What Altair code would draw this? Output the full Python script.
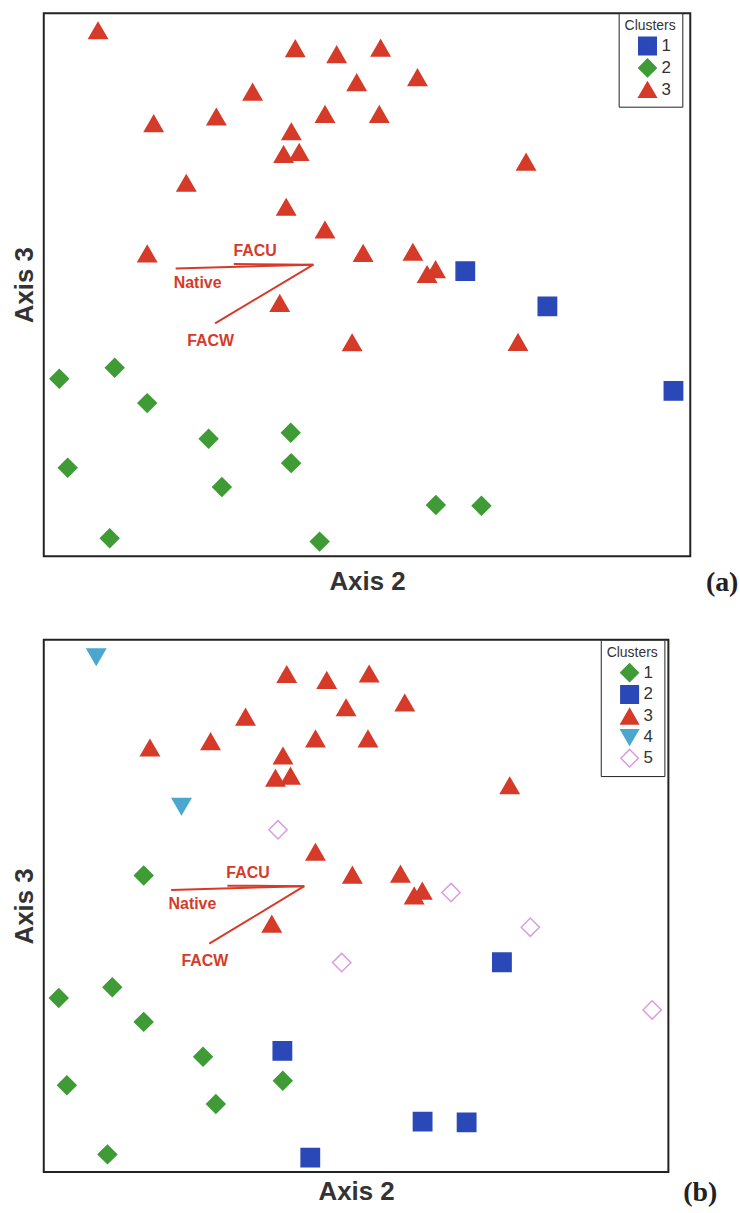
import altair as alt
import pandas as pd

# ---- point coordinates (arbitrary ordination units, frame = 0..100) ----
x_vals = [8.4, 38.9, 45.3, 52.1, 48.4, 57.8, 32.3, 17.0, 26.7, 43.5,
          51.9, 38.3, 37.1, 39.5, 74.6, 22.05, 37.5, 43.5, 16.0, 49.4,
          57.1, 60.6, 59.3, 36.5, 47.7, 73.35,
          65.2, 77.9, 97.4,
          2.4, 10.97, 16.0, 25.5, 38.2, 3.7, 38.27, 27.55, 60.65, 67.7, 10.2, 42.67]
y_vals = [96.8, 93.5, 92.4, 93.6, 87.25, 88.15, 85.5, 79.7, 80.9, 81.4,
          81.4, 78.2, 74.0, 74.4, 72.6, 68.7, 64.3, 60.1, 55.7, 55.8,
          56.0, 52.8, 51.9, 46.6, 39.35, 39.4,
          52.5, 46.0, 30.45,
          32.7, 34.7, 28.2, 21.65, 22.75, 16.3, 17.15, 12.75, 9.45, 9.3, 3.3, 2.7]
cluster_a = ["3", "3", "3", "3", "3", "3", "3", "3", "3", "3",
             "3", "3", "3", "3", "3", "3", "3", "3", "3", "3",
             "3", "3", "3", "3", "3", "3",
             "1", "1", "1",
             "2", "2", "2", "2", "2", "2", "2", "2", "2", "2", "2", "2"]
cluster_b = ["4", "3", "3", "3", "3", "3", "3", "3", "3", "3",
             "3", "3", "3", "3", "3", "4", "5", "3", "1", "3",
             "3", "3", "3", "3", "5", "2",
             "5", "5", "5",
             "1", "1", "1", "1", "2", "1", "1", "1", "2", "2", "1", "2"]

# ---- biplot vectors ----
vec_names = ["FACU", "Native", "FACW"]
vec_x0 = [41.7, 41.7, 41.7]
vec_y0 = [53.7, 53.7, 53.7]
vec_x1 = [29.4, 20.4, 26.5]
vec_y1 = [53.8, 53.0, 42.9]
lab_x = [32.7, 23.8, 25.8]
lab_y = [56.2, 50.4, 39.6]

# ---- legends ----
domain_a = ["1", "2", "3"]
shapes_a = ["square", "diamond", "triangle-up"]
fills_a = ["#2a48b8", "#3f9b35", "#d63a28"]
strokes_a = ["#2a48b8", "#3f9b35", "#d63a28"]

domain_b = ["1", "2", "3", "4", "5"]
shapes_b = ["diamond", "square", "triangle-up", "triangle-down", "diamond"]
fills_b = ["#3f9b35", "#2a48b8", "#d63a28", "#4ba7cf", "#ffffff"]
strokes_b = ["#3f9b35", "#2a48b8", "#d63a28", "#4ba7cf", "#dc9be3"]

tags = ["(a)", "(b)"]

RED = "#d63a28"
SANS = "Liberation Sans"


def panel(clusters, domain, shapes, fills, strokes, w, h, tag, leg_x, tpad, tag_dy):
    df = pd.DataFrame({"x": x_vals, "y": y_vals, "Clusters": clusters})
    vec = pd.DataFrame({"x": vec_x0, "y": vec_y0, "x2": vec_x1, "y2": vec_y1, "name": vec_names})
    labs = pd.DataFrame({"x": lab_x, "y": lab_y, "name": vec_names})
    tagdf = pd.DataFrame({"t": [tag]})

    xs = alt.Scale(domain=[0, 100], nice=False, zero=False)
    ys = alt.Scale(domain=[0, 100], nice=False, zero=False)
    xaxis = alt.Axis(title="Axis 2", labels=False, ticks=False, domain=False, grid=False,
                     titleFont=SANS, titleFontSize=26, titleFontWeight="bold",
                     titleColor="#333333", titlePadding=tpad)
    yaxis = alt.Axis(title="Axis 3", labels=False, ticks=False, domain=False, grid=False,
                     titleFont=SANS, titleFontSize=26, titleFontWeight="bold",
                     titleColor="#333333", titlePadding=6)
    X = alt.X("x:Q", scale=xs, axis=xaxis)
    Y = alt.Y("y:Q", scale=ys, axis=yaxis)

    leg = alt.Legend(orient="none", legendX=leg_x, legendY=0, title="Clusters",
                     titleFont=SANS, titleFontSize=14, titleFontWeight="normal",
                     titleColor="#333333", titlePadding=3,
                     labelFont=SANS, labelFontSize=17, labelColor="#333333",
                     labelOffset=4, strokeColor="#222222", fillColor="white",
                     padding=6, symbolSize=310, symbolOffset=13, rowPadding=-8,
                     symbolStrokeWidth=1.5)

    pts = alt.Chart(df).mark_point(opacity=1, strokeWidth=1.5, size=340).encode(
        x=X, y=Y,
        shape=alt.Shape("Clusters:N", scale=alt.Scale(domain=domain, range=shapes), legend=leg),
        fill=alt.Fill("Clusters:N", scale=alt.Scale(domain=domain, range=fills), legend=leg),
        stroke=alt.Stroke("Clusters:N", scale=alt.Scale(domain=domain, range=strokes), legend=leg),
    )
    rules = alt.Chart(vec).mark_rule(color=RED, strokeWidth=2).encode(
        x=X, y=Y, x2="x2:Q", y2="y2:Q")
    texts = alt.Chart(labs).mark_text(color=RED, font=SANS, fontSize=16,
                                      fontWeight="bold").encode(x=X, y=Y, text="name:N")
    tagt = alt.Chart(tagdf).mark_text(font="Liberation Serif", fontSize=28, fontWeight="bold",
                                      color="#222222", baseline="middle").encode(
        text="t:N", x=alt.value(w + 32), y=alt.value(h + tag_dy))
    return alt.layer(rules, texts, pts, tagt).properties(width=w, height=h)


pa = panel(cluster_a, domain_a, shapes_a, fills_a, strokes_a, 650, 546, tags[0], 578, 12, 27)
pb = panel(cluster_b, domain_b, shapes_b, fills_b, strokes_b, 628, 535, tags[1], 560, 7, 21)

chart = alt.vconcat(pa, pb, spacing=40).resolve_scale(
    x="independent", y="independent",
    shape="independent", fill="independent", stroke="independent",
).resolve_legend(
    shape="independent", fill="independent", stroke="independent",
).properties(
    padding={"left": 11, "top": 8, "right": 0, "bottom": 0},
    background="white",
).configure_view(stroke="#222222", strokeWidth=2)

chart.save("out.html", embed_options={"renderer": "svg", "actions": False})
